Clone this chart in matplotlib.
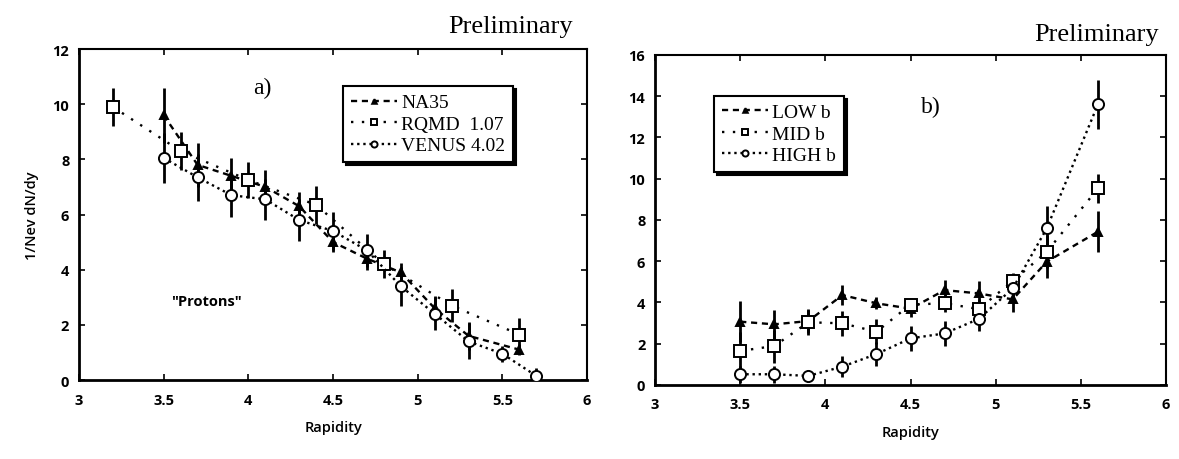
import matplotlib
matplotlib.use("Agg")
from matplotlib import pyplot as plt

# panel a) "Protons"
na35_y = [3.5, 3.7, 3.9, 4.1, 4.3, 4.5, 4.7, 4.9, 5.1, 5.3, 5.6]
na35_v = [9.6, 7.8, 7.4, 7.0, 6.3, 5.0, 4.4, 3.9, 2.6, 1.6, 1.1]
na35_e = [1.0, 0.8, 0.65, 0.6, 0.5, 0.35, 0.4, 0.35, 0.45, 0.5, 0.2]

rqmd_y = [3.2, 3.6, 4.0, 4.4, 4.8, 5.2, 5.6]
rqmd_v = [9.9, 8.3, 7.25, 6.35, 4.2, 2.7, 1.65]
rqmd_e = [0.7, 0.7, 0.65, 0.7, 0.5, 0.6, 0.6]

venus_y = [3.5, 3.7, 3.9, 4.1, 4.3, 4.5, 4.7, 4.9, 5.1, 5.3, 5.5, 5.7]
venus_v = [8.05, 7.35, 6.7, 6.55, 5.8, 5.4, 4.7, 3.4, 2.4, 1.4, 0.95, 0.15]
venus_e = [0.9, 0.85, 0.8, 0.75, 0.75, 0.7, 0.6, 0.7, 0.6, 0.65, 0.3, 0.3]

# panel b) impact parameter bins
b_y = [3.5, 3.7, 3.9, 4.1, 4.3, 4.5, 4.7, 4.9, 5.1, 5.3, 5.6]
low_v = [3.07, 2.94, 3.1, 4.36, 3.96, 3.7, 4.6, 4.44, 4.15, 5.98, 7.43]
low_e = [1.0, 0.7, 0.6, 0.5, 0.3, 0.4, 0.5, 0.6, 0.6, 0.8, 1.0]
mid_v = [1.65, 1.89, 3.04, 2.99, 2.58, 3.9, 3.96, 3.68, 5.04, 6.46, 9.53]
mid_e = [0.9, 0.8, 0.6, 0.6, 0.6, 0.3, 0.4, 0.5, 0.4, 0.8, 0.7]
high_v = [0.52, 0.52, 0.44, 0.89, 1.5, 2.26, 2.5, 3.2, 4.68, 7.6, 13.6]
high_e = [0.4, 0.4, 0.3, 0.5, 0.6, 0.6, 0.6, 0.6, 0.5, 1.1, 1.2]

x_ticks = [3, 3.5, 4, 4.5, 5, 5.5, 6]
x_ticklabels = ["3", "3.5", "4", "4.5", "5", "5.5", "6"]

SERIF = ["Liberation Serif", "DejaVu Serif"]
SANS = ["Open Sans", "DejaVu Sans"]

dash_s = (0, (2.6, 2.0))
dot_wide = (0, (1.0, 3.6))
dot_tight = (0, (1.0, 1.6))

fig = plt.figure(figsize=(11.79, 4.6), dpi=100)
ax_a = fig.add_axes([0.067, 0.1717, 0.431, 0.7196])
ax_b = fig.add_axes([0.5556, 0.1609, 0.4334, 0.7174])


def series(ax, x, y, e, marker, ls, label, ms, filled):
    ax.errorbar(x, y, yerr=e, fmt="none", ecolor="black", elinewidth=2.0,
                capsize=0, zorder=2)
    ax.plot(x, y, color="black", linestyle=ls, linewidth=1.7, marker=marker,
            markersize=ms, markeredgewidth=1.4,
            markerfacecolor="black" if filled else "white",
            markeredgecolor="black", label=label, zorder=3)


def style(ax, ymax):
    ax.set_xlim(3, 6)
    ax.set_ylim(0, ymax)
    ax.set_xticks(x_ticks)
    ax.set_xticklabels(x_ticklabels)
    ax.set_yticks(range(0, ymax + 1, 2))
    ax.tick_params(direction="in", top=True, right=True, length=4, width=1.2)
    ax.tick_params(axis="x", pad=9)
    ax.tick_params(axis="y", pad=7)
    for lab in ax.get_xticklabels() + ax.get_yticklabels():
        lab.set_family(SANS)
        lab.set_weight("bold")
        lab.set_fontsize(10.5)
    for side in ["left", "bottom"]:
        ax.spines[side].set_linewidth(2.0)
    for side in ["top", "right"]:
        ax.spines[side].set_linewidth(1.5)
    ax.set_xlabel("Rapidity", family=SANS, weight="semibold", fontsize=10.5,
                  labelpad=10)


def legend(ax, anchor):
    leg = ax.legend(loc="upper left", bbox_to_anchor=anchor, borderaxespad=0,
                    fancybox=False, shadow={"color": "black", "alpha": 1},
                    framealpha=1, edgecolor="black", handlelength=2.4,
                    handletextpad=0.2, labelspacing=0.2, borderpad=0.4,
                    markerscale=0.55, prop={"family": SERIF, "size": 14})
    leg.get_frame().set_linewidth(1.5)


series(ax_a, na35_y, na35_v, na35_e, "^", dash_s, "NA35", 6, True)
series(ax_a, rqmd_y, rqmd_v, rqmd_e, "s", dot_wide, "RQMD  1.07", 9, False)
series(ax_a, venus_y, venus_v, venus_e, "o", dot_tight, "VENUS 4.02", 8, False)
style(ax_a, 12)
ax_a.set_ylabel("1/Nev dN/dy", family=SANS, weight="semibold", fontsize=10.5,
                labelpad=10)
legend(ax_a, (0.519, 0.888))
ax_a.text(4.08, 10.6, "a)", family=SERIF, fontsize=17, ha="center", va="center")
ax_a.text(3.75, 2.85, "\"Protons\"", family=SANS, fontsize=10.5, weight="bold",
          ha="center", va="center")

series(ax_b, b_y, low_v, low_e, "^", dash_s, "LOW b", 6, True)
series(ax_b, b_y, mid_v, mid_e, "s", dot_wide, "MID b", 9, False)
series(ax_b, b_y, high_v, high_e, "o", dot_tight, "HIGH b", 8, False)
style(ax_b, 16)
legend(ax_b, (0.115, 0.876))
ax_b.text(4.62, 13.5, "b)", family=SERIF, fontsize=17, ha="center", va="center")

fig.text(573 / 1179, 1 - 33 / 460, "Preliminary", family=SERIF, fontsize=19,
         ha="right", va="baseline")
fig.text(1159 / 1179, 1 - 41 / 460, "Preliminary", family=SERIF, fontsize=19,
         ha="right", va="baseline")

fig.savefig("out.png", dpi=100)
